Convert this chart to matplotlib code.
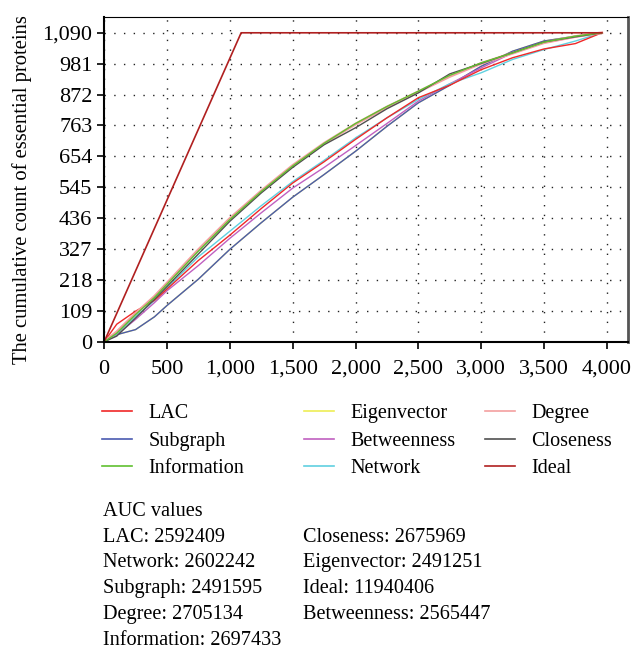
import matplotlib
matplotlib.use("Agg")
import matplotlib.pyplot as plt
from matplotlib.ticker import FuncFormatter

plt.rcParams['font.family'] = ['Liberation Serif', 'DejaVu Serif']

# ranked proteins (x) and cumulative essential proteins (y)
x = [0, 100, 250, 400, 500, 750, 1000, 1250, 1500, 1750, 2000, 2250, 2500, 2750, 3000, 3250, 3500, 3750, 3960]
lac = [0, 62, 108, 146, 186, 287, 376, 470, 560, 635, 714, 790, 861, 905, 960, 1002, 1033, 1052, 1090]
subgraph = [0, 25, 43, 88, 128, 221, 326, 420, 510, 590, 672, 760, 843, 905, 972, 1025, 1061, 1078, 1090]
information = [0, 30, 96, 156, 203, 320, 431, 530, 620, 700, 770, 830, 884, 940, 984, 1019, 1057, 1078, 1090]
eigenvector = [0, 25, 43, 88, 128, 221, 326, 420, 510, 590, 672, 760, 843, 905, 972, 1025, 1061, 1078, 1090]
betweenness = [0, 25, 79, 138, 180, 269, 365, 455, 542, 615, 692, 770, 849, 910, 966, 1019, 1055, 1075, 1090]
network = [0, 28, 90, 145, 190, 300, 390, 480, 565, 640, 719, 790, 855, 910, 949, 996, 1031, 1061, 1090]
degree = [0, 35, 100, 160, 207, 325, 435, 532, 622, 700, 768, 828, 882, 936, 982, 1018, 1055, 1077, 1090]
closeness = [0, 20, 84, 150, 195, 310, 425, 525, 615, 695, 755, 822, 878, 945, 982, 1020, 1058, 1076, 1090]
ideal_x = [0, 1090, 3960]
ideal_y = [0, 1090, 1090]

yticks = [0, 109, 218, 327, 436, 545, 654, 763, 872, 981, 1090]
xticks = [0, 500, 1000, 1500, 2000, 2500, 3000, 3500, 4000]

auc_left = ["LAC: 2592409", "Network: 2602242", "Subgraph: 2491595", "Degree: 2705134", "Information: 2697433"]
auc_right = ["Closeness: 2675969", "Eigenvector: 2491251", "Ideal: 11940406", "Betweenness: 2565447"]

fig = plt.figure(figsize=(6.43, 6.51), dpi=100)
ax = fig.add_axes([0.162, 0.475, 0.815, 0.499])

lw = 1.0
ax.plot(x, eigenvector, color='#eeee55', lw=lw, label='Eigenvector')
ax.plot(x, subgraph, color='#4a5ab0', lw=lw, label='Subgraph')
ax.plot(x, betweenness, color='#c060c0', lw=lw, label='Betweenness')
ax.plot(x, network, color='#60d0e0', lw=lw, label='Network')
ax.plot(x, lac, color='#f02828', lw=lw, label='LAC')
ax.plot(x, degree, color='#f4a0a0', lw=2.0, label='Degree')
ax.plot(x, closeness, color='#505050', lw=lw, label='Closeness')
ax.plot(x, information, color='#60c030', lw=lw, label='Information')
ax.plot(ideal_x, ideal_y, color='#b02020', lw=1.2, label='Ideal')

ax.set_xlim(0, 4170)
ax.set_ylim(0, 1146)
ax.set_xticks(xticks)
ax.set_yticks(yticks)
ax.xaxis.set_major_formatter(FuncFormatter(lambda v, p: f"{int(v):,}"))
ax.yaxis.set_major_formatter(FuncFormatter(lambda v, p: f"{int(v):,}"))
ax.tick_params(labelsize=16, direction='out', length=5, width=1.2)
ax.tick_params(axis='x', pad=8)
ax.grid(True, color='#222222', linestyle=(0, (1, 6)), linewidth=1.0)
ax.set_ylabel("The cumulative count of essential proteins", fontsize=14.9)
ax.yaxis.set_label_coords(-0.137, 0.469)

for s in ['left', 'bottom']:
    ax.spines[s].set_linewidth(1.5)
ax.spines['right'].set_color('#555555')
ax.spines['right'].set_linewidth(2)
ax.spines['top'].set_linewidth(0.8)

# legend: three columns placed as in the reference
h, l = ax.get_legend_handles_labels()
lookup = dict(zip(l, h))
columns = [(['LAC', 'Subgraph', 'Information'], 0.159),
           (['Eigenvector', 'Betweenness', 'Network'], 0.473),
           (['Degree', 'Closeness', 'Ideal'], 0.754)]
for names, xpos in columns:
    hs = [plt.Line2D([], [], color=lookup[n].get_color(), lw=1.2) for n in names]
    fig.legend(hs, names, loc='upper left', bbox_to_anchor=(xpos, 0.379),
               frameon=False, fontsize=14.5, handlelength=1.5, handletextpad=0.8,
               labelspacing=0.42, borderpad=0, borderaxespad=0)

fig.text(0.16, 0.2150, "AUC values", fontsize=14.6, va='center')
for i, t in enumerate(auc_left):
    fig.text(0.16, 0.1748 - i * 0.0396, t, fontsize=14.6, va='center')
for i, t in enumerate(auc_right):
    fig.text(0.471, 0.1748 - i * 0.0396, t, fontsize=14.6, va='center')

fig.savefig("out.png", dpi=100)
